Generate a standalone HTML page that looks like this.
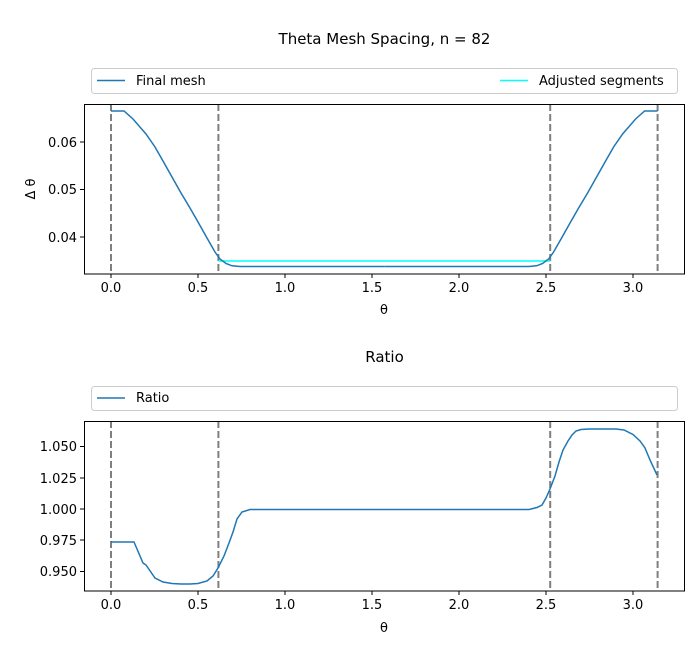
<!DOCTYPE html>
<html><head><meta charset="utf-8"><style>body{margin:0;background:#fff}svg{display:block}text{font-family:"DejaVu Sans","Liberation Sans",sans-serif;font-size:13px;fill:#000}.t{font-size:15px}</style></head><body>
<svg width="700" height="650" viewBox="0 0 700 650">
<rect width="700" height="650" fill="#fff"/>
<text class="t" x="384.5" y="44" text-anchor="middle">Theta Mesh Spacing, n = 82</text>
<rect x="91.5" y="68.5" width="586" height="25" rx="3" fill="#fff" stroke="#ccc"/>
<line x1="97" y1="80.5" x2="125" y2="80.5" stroke="#1f77b4" stroke-width="1.5"/>
<text x="136" y="85">Final mesh</text>
<line x1="500" y1="80.5" x2="528" y2="80.5" stroke="#00ffff" stroke-width="1.5"/>
<text x="539" y="85">Adjusted segments</text>
<g fill="none" stroke-width="2" stroke="#7f7f7f" stroke-dasharray="7,3">
<line x1="111" y1="104" x2="111" y2="274"/><line x1="218.4" y1="104" x2="218.4" y2="274"/><line x1="550.2" y1="104" x2="550.2" y2="274"/><line x1="657.6" y1="104" x2="657.6" y2="274"/>
</g>
<line x1="218.4" y1="261" x2="550.2" y2="261" stroke="#00ffff" stroke-width="1.5"/>
<g fill="none" stroke="#1f77b4" stroke-width="1.5">
<polyline id="lc" points="111,111 124,111 133,119 146,134 155,147 163,161 172,177 181,193 190,208 198,222 207,238 215,252 220,259 226,263.5 232,265.8 240,266.5 384.3,266.5"/>
<use href="#lc" transform="translate(768.6,0) scale(-1,1)"/>
</g>
<rect x="84.5" y="104.5" width="600" height="169.5" fill="none" stroke="#000"/>
<g stroke="#000"><line x1="111" y1="274" x2="111" y2="278"/><line x1="198" y1="274" x2="198" y2="278"/><line x1="285" y1="274" x2="285" y2="278"/><line x1="372" y1="274" x2="372" y2="278"/><line x1="459" y1="274" x2="459" y2="278"/><line x1="546" y1="274" x2="546" y2="278"/><line x1="633" y1="274" x2="633" y2="278"/>
<line x1="80" y1="142" x2="84" y2="142"/><line x1="80" y1="189.5" x2="84" y2="189.5"/><line x1="80" y1="237" x2="84" y2="237"/></g>
<g text-anchor="middle"><text x="111" y="292">0.0</text><text x="198" y="292">0.5</text><text x="285" y="292">1.0</text><text x="372" y="292">1.5</text><text x="459" y="292">2.0</text><text x="546" y="292">2.5</text><text x="633" y="292">3.0</text><text x="384" y="314">θ</text></g>
<g text-anchor="end"><text x="77" y="147">0.06</text><text x="77" y="194">0.05</text><text x="77" y="242">0.04</text></g>
<text transform="translate(35,189) rotate(-90)" text-anchor="middle">Δ θ</text>

<text class="t" x="384.5" y="362" text-anchor="middle">Ratio</text>
<rect x="91.5" y="386.5" width="586" height="24" rx="3" fill="#fff" stroke="#ccc"/>
<line x1="97" y1="398" x2="125" y2="398" stroke="#1f77b4" stroke-width="1.5"/>
<text x="136" y="402">Ratio</text>
<g fill="none" stroke-width="2" stroke="#7f7f7f" stroke-dasharray="7,3">
<line x1="111" y1="421" x2="111" y2="591"/><line x1="218.4" y1="421" x2="218.4" y2="591"/><line x1="550.2" y1="421" x2="550.2" y2="591"/><line x1="657.6" y1="421" x2="657.6" y2="591"/>
</g>
<polyline fill="none" stroke="#1f77b4" stroke-width="1.5" points="111,542 134,542 143,563 146,565 155,578 163,582 172,583.5 181,584 190,584 198,583.5 207,581 213,576 218,568 224,556 229,543 233,532 237,519 242,512 250,509.5 529,509.5 537,507.5 542,505 546,498 550,489 555,476 559,462 563,450 568,441 572,435 576,431 581,429.5 589,429 598,429 607,429 616,429 624,430 633,434.5 640,441 645,448 650,460 657,475"/>
<rect x="84.5" y="421.5" width="600" height="169.5" fill="none" stroke="#000"/>
<g stroke="#000"><line x1="111" y1="591" x2="111" y2="595"/><line x1="198" y1="591" x2="198" y2="595"/><line x1="285" y1="591" x2="285" y2="595"/><line x1="372" y1="591" x2="372" y2="595"/><line x1="459" y1="591" x2="459" y2="595"/><line x1="546" y1="591" x2="546" y2="595"/><line x1="633" y1="591" x2="633" y2="595"/>
<line x1="80" y1="446.5" x2="84" y2="446.5"/><line x1="80" y1="478" x2="84" y2="478"/><line x1="80" y1="509" x2="84" y2="509"/><line x1="80" y1="540" x2="84" y2="540"/><line x1="80" y1="571.5" x2="84" y2="571.5"/></g>
<g text-anchor="middle"><text x="111" y="609">0.0</text><text x="198" y="609">0.5</text><text x="285" y="609">1.0</text><text x="372" y="609">1.5</text><text x="459" y="609">2.0</text><text x="546" y="609">2.5</text><text x="633" y="609">3.0</text><text x="384" y="632">θ</text></g>
<g text-anchor="end"><text x="77" y="451">1.050</text><text x="77" y="483">1.025</text><text x="77" y="514">1.000</text><text x="77" y="545">0.975</text><text x="77" y="576">0.950</text></g>
</svg>
</body></html>
